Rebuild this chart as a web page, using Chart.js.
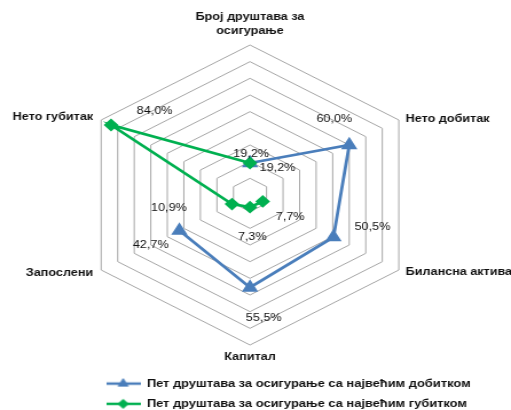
<!DOCTYPE html>
<html>
<head>
<meta charset="utf-8">
<script src="https://cdn.jsdelivr.net/npm/chart.js@4/dist/chart.umd.min.js"></script>
<style>
  html, body { margin: 0; padding: 0; background: #fff; overflow: hidden; }
  /* the original picture is stretched horizontally, so the canvas is too */
  #radar { display: block; width: 446px; height: 410px; transform: scaleX(1.1457); transform-origin: 0 0; }
</style>
</head>
<body>
<canvas id="radar" width="446" height="410"></canvas>
<script>
// data
const categories = [['Број друштава за', 'осигурање'], 'Нето добитак', 'Билансна актива', 'Капитал', 'Запослени', 'Нето губитак'];
const seriesNames = ['Пет друштава за осигурање са највећим добитком', 'Пет друштава за осигурање са највећим губитком'];
const profitValues = [19.2, 60.0, 50.5, 55.5, 42.7, null];
const lossValues = [19.2, null, 7.7, 7.3, 10.9, 84.0];
const scaleMin = 0;
const scaleMax = 90;
const scaleStep = 10;

const blue = '#4a7ebb';
const green = '#00b050';
const font = '"Liberation Sans", Arial, sans-serif';

// where the value labels sit, relative to their point (canvas px)
const labelOffsets = [
  [[24, 5], [-13, -26], [34, -10], [12, 30], [-25, 14], null],
  [[1, -9], null, [24, 16], [2, 30], [-55, 4], [38, -14]]
];
// where the category names sit, relative to the outer ring corner
const catPlace = [
  {align: 'center', dx: 0, dy: -21},
  {align: 'left', dx: 6, dy: -1},
  {align: 'left', dx: 6, dy: 2},
  {align: 'center', dx: 0, dy: 12},
  {align: 'right', dx: -7, dy: 3},
  {align: 'right', dx: -7, dy: -3}
];

function legendMark(color, style, radius) {
  const c = document.createElement('canvas');
  c.width = 30;
  c.height = 12;
  const g = c.getContext('2d');
  g.strokeStyle = color;
  g.fillStyle = color;
  g.lineWidth = 2.5;
  g.beginPath();
  g.moveTo(0, 6);
  g.lineTo(30, 6);
  g.stroke();
  g.lineWidth = 1;
  Chart.helpers.drawPoint(g, {pointStyle: style, radius: radius, borderWidth: 1, rotation: 0}, 15, 6);
  return c;
}
const marks = [legendMark(blue, 'triangle', 5), legendMark(green, 'rectRot', 4.5)];

const textPlugin = {
  id: 'textPlugin',
  afterDatasetsDraw(chart) {
    const ctx = chart.ctx;
    const scale = chart.scales.r;
    ctx.save();
    ctx.fillStyle = '#111';
    ctx.textBaseline = 'middle';

    // category names
    ctx.font = 'bold 11px ' + font;
    chart.data.labels.forEach((label, i) => {
      const p = scale.getPointPosition(i, scale.drawingArea);
      const place = catPlace[i];
      const lines = [].concat(label);
      ctx.textAlign = place.align;
      lines.forEach((line, k) => {
        ctx.fillText(line, p.x + place.dx, p.y + place.dy + (k - (lines.length - 1) / 2) * 14);
      });
    });

    // value labels
    ctx.font = '11px ' + font;
    ctx.textAlign = 'center';
    chart.data.datasets.forEach((ds, d) => {
      const meta = chart.getDatasetMeta(d);
      meta.data.forEach((pt, i) => {
        const v = ds.data[i];
        if (v == null) return;
        const off = labelOffsets[d][i];
        ctx.fillText(v.toFixed(1).replace('.', ',') + '%', pt.x + off[0], pt.y + off[1]);
      });
    });
    ctx.restore();
  }
};

let radarChart = document.querySelector('#radar');

let radar = new Chart(radarChart, {
  type: 'radar',
  data: {
    labels: categories,
    datasets: [{
      label: seriesNames[0],
      data: profitValues,
      borderColor: blue,
      backgroundColor: blue,
      pointBackgroundColor: blue,
      pointBorderColor: blue,
      pointStyle: 'triangle',
      pointRadius: 5.5,
      borderWidth: 2.75,
      fill: false,
      clip: false,
      order: 1
    }, {
      label: seriesNames[1],
      data: lossValues,
      borderColor: green,
      backgroundColor: green,
      pointBackgroundColor: green,
      pointBorderColor: green,
      pointStyle: 'rectRot',
      pointRadius: 4.5,
      borderWidth: 2.75,
      fill: false,
      clip: false,
      order: 0
    }]
  },
  options: {
    responsive: false,
    animation: false,
    events: [],
    layout: { padding: { left: 83.5, right: 0, top: 0, bottom: -9.5 } },
    scales: {
      r: {
        min: scaleMin,
        max: scaleMax,
        ticks: { display: false, stepSize: scaleStep },
        grid: { color: '#a6a6a6', lineWidth: 1 },
        angleLines: { display: false },
        pointLabels: { display: false },
        afterFit(scale) {
          scale.xCenter = 218.2;
          scale.yCenter = 195;
          scale.drawingArea = 150;
        }
      }
    },
    plugins: {
      tooltip: { enabled: false },
      legend: {
        position: 'bottom',
        align: 'start',
        labels: {
          usePointStyle: true,
          pointStyleWidth: 30,
          padding: 9,
          color: '#111',
          font: { family: font, size: 11.25, weight: 'bold' },
          sort: (a, b) => a.datasetIndex - b.datasetIndex,
          generateLabels(chart) {
            const items = Chart.defaults.plugins.legend.labels.generateLabels(chart);
            items.forEach(item => { item.pointStyle = marks[item.datasetIndex]; });
            return items;
          }
        }
      }
    }
  },
  plugins: [textPlugin]
});
</script>
</body>
</html>
